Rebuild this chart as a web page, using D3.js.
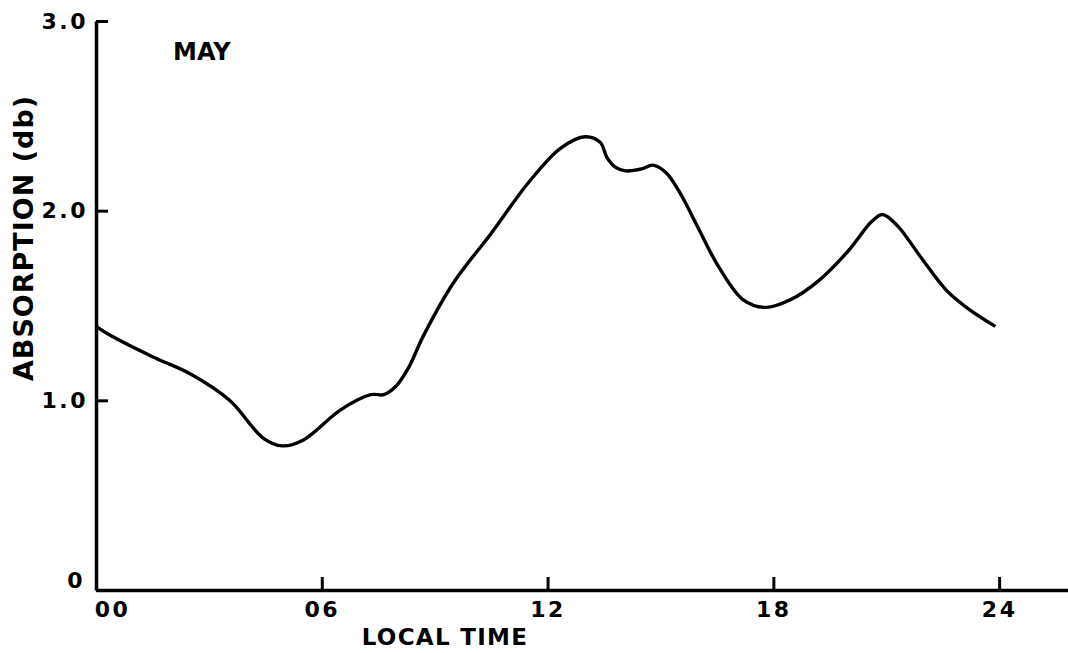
<!DOCTYPE html>
<html>
 <head>
  <title>May absorption</title>
  <script src="https://cdnjs.cloudflare.com/ajax/libs/d3/7.8.5/d3.min.js"></script>
  <style>
   body { margin: 0; background: #fff; }
   text { font-family: "DejaVu Sans", sans-serif; font-weight: bold; fill: #000; }
  </style>
 </head>
 <body>
  <script>
   // local time (hours) and absorption (db)
   const hours = [0, 0.4, 1.5, 2.5, 3.55, 4.45, 4.95, 5.5, 6.5, 7.3, 7.65, 7.95, 8.3, 8.7,
                  9.5, 10.5, 11.5, 12.35, 13.0, 13.4, 13.58, 13.8, 14.07, 14.5, 14.8, 15.15, 15.5,
                  16.0, 16.5, 17.2, 17.8, 18.45, 19.2, 20.0, 20.6, 20.9, 21.3, 21.9, 22.6,
                  23.2, 23.9];
   const absorption = [1.39, 1.34, 1.23, 1.14, 1.0, 0.80, 0.76, 0.79, 0.95, 1.03, 1.03, 1.07, 1.17, 1.34,
                       1.62, 1.88, 2.15, 2.33, 2.39, 2.36, 2.28, 2.23, 2.21, 2.22, 2.24, 2.20, 2.10,
                       1.91, 1.72, 1.53, 1.49, 1.53, 1.63, 1.79, 1.94, 1.98, 1.92, 1.76, 1.58,
                       1.48, 1.39];
   const xTicks = [0, 6, 12, 18, 24];
   const xTickLabels = ["00", "06", "12", "18", "24"];
   const yTicks = [0, 1, 2, 3];
   const yTickLabels = ["0", "1.0", "2.0", "3.0"];
   const month = "MAY";

   const w = 1068;
   const h = 653;

   const xScale = d3.scaleLinear()
                    .domain([0, 25.83])
                    .range([96, 1068]);
   const yScale = d3.scaleLinear()
                    .domain([0, 3])
                    .range([590, 21]);

   const svg = d3.select("body")
                 .append("svg")
                 .attr("width", w)
                 .attr("height", h);

   const xAxis = d3.axisBottom(xScale)
                   .tickValues(xTicks)
                   .tickSizeInner(-13)
                   .tickSizeOuter(0)
                   .tickPadding(11)
                   .tickFormat((d, i) => xTickLabels[i]);
   const yAxis = d3.axisLeft(yScale)
                   .tickValues(yTicks)
                   .tickSizeInner(-12)
                   .tickSizeOuter(0)
                   .tickPadding(8)
                   .tickFormat((d, i) => yTickLabels[i]);

   const gx = svg.append("g")
                 .attr("transform", "translate(0," + yScale(0) + ")")
                 .call(xAxis);
   const gy = svg.append("g")
                 .attr("transform", "translate(" + xScale(0) + ",0)")
                 .call(yAxis);

   [gx, gy].forEach(g => {
     g.select(".domain").attr("stroke", "#000").attr("stroke-width", 3.5);
     g.selectAll(".tick line").attr("stroke", "#000").attr("stroke-width", 3);
     g.selectAll(".tick text")
      .attr("font-family", "DejaVu Sans")
      .attr("font-weight", "bold")
      .attr("font-size", 22)
      .attr("letter-spacing", 2.5)
      .attr("fill", "#000");
   });
   // the 00 label sits right of the corner, the 0 label above it
   gx.selectAll(".tick text").filter(d => d === 0).attr("dx", 16);
   gy.selectAll(".tick text").filter(d => d === 0).attr("dy", "-0.1em").attr("dx", -3);

   const line = d3.line()
                  .x(d => xScale(d[0]))
                  .y(d => yScale(d[1]))
                  .curve(d3.curveCatmullRom.alpha(0.5));

   svg.append("path")
      .datum(d3.zip(hours, absorption))
      .attr("fill", "none")
      .attr("stroke", "#000")
      .attr("stroke-width", 3.4)
      .attr("stroke-linejoin", "round")
      .attr("d", line);

   svg.append("text")
      .attr("x", 173)
      .attr("y", 60)
      .attr("font-size", 24)
      .text(month);

   svg.append("text")
      .attr("x", 445)
      .attr("y", 645)
      .attr("text-anchor", "middle")
      .attr("font-size", 23)
      .attr("letter-spacing", 1.3)
      .text("LOCAL TIME");

   svg.append("text")
      .attr("transform", "translate(33,238) rotate(-90)")
      .attr("text-anchor", "middle")
      .attr("font-size", 27)
      .attr("letter-spacing", 1)
      .text("ABSORPTION (db)");
  </script>
 </body>
</html>
